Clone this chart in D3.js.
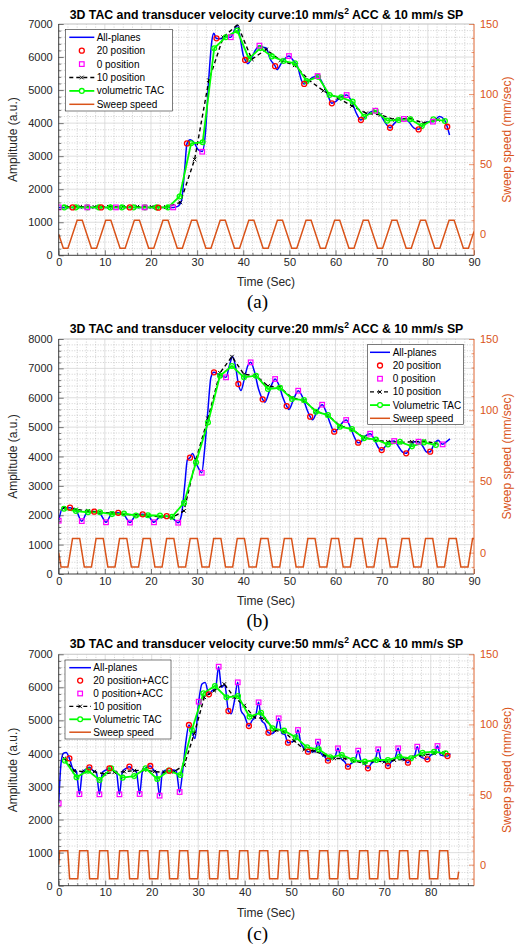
<!DOCTYPE html>
<html><head><meta charset="utf-8">
<script src="https://cdn.jsdelivr.net/npm/d3@7"></script>
<style>body{margin:0;background:#fff}svg{display:block}text{font-family:Arial,"Liberation Sans",Helvetica,sans-serif}</style>
</head><body><svg id="c" width="516" height="946"></svg>
<script>
// ---------------- DATA ----------------
const xTicksA = [0,10,20,30,40,50,60,70,80,90];
const xTicksC = [0,10,20,30,40,50,60,70,80];
const yTicksA = [0,1000,2000,3000,4000,5000,6000,7000];
const yTicksB = [0,1000,2000,3000,4000,5000,6000,7000,8000];
const y2Ticks = [0,50,100,150];

// Panel (a)
const blueA = [[0,1450],[3,1450],[6.2,1450],[9.2,1450],[12.4,1450],[15.4,1450],[18.6,1450],[21.6,1445],[24.8,1450],[25.8,1480],[26.6,1650],[27.3,2600],[27.8,3380],[28.5,3500],[29.3,3420],[30.2,3200],[31.1,3140],[31.8,3700],[32.5,5300],[33.2,6500],[33.6,6720],[34.2,6560],[35.0,6550],[36.0,6620],[37.3,6600],[38.2,6850],[38.7,6960],[39.3,6600],[40.0,6050],[40.4,5910],[41.0,5800],[41.8,5960],[42.6,6200],[43.5,6344],[44.3,6300],[45.0,6270],[45.8,5950],[46.9,5729],[47.3,5620],[48.2,5800],[49.0,5950],[49.9,6031],[50.8,5900],[51.8,5700],[52.6,5300],[53.2,5184],[54.0,5270],[55.0,5380],[56.1,5426],[57.2,5200],[58.3,4850],[59.2,4600],[60.0,4650],[61.0,4780],[62.4,4851],[63.5,4650],[64.5,4300],[65.5,4094],[66.5,4200],[67.5,4330],[68.6,4377],[69.5,4300],[70.6,4050],[71.8,3862],[72.8,4000],[73.8,4120],[74.8,4124],[75.8,4050],[77.0,3850],[78.0,3812],[79.0,3950],[80.0,4040],[81.1,4043],[82.5,4200],[83.5,4120],[84.2,3892],[84.7,3640]];
const redA = [[3.0,1450],[9.2,1450],[15.4,1450],[21.6,1440],[27.8,3385],[34.2,6565],[40.4,5910],[46.9,5725],[53.2,5185],[59.2,4600],[65.5,4095],[71.8,3860],[78.0,3810],[84.2,3890]];
const magA = [[0,1450],[6.2,1450],[12.4,1450],[18.6,1450],[24.8,1450],[31.1,3135],[37.3,6600],[43.5,6345],[49.9,6030],[56.1,5425],[62.4,4850],[68.6,4375],[74.8,4125],[81.1,4045]];
const blackA = [[1.55,1470],[4.65,1470],[7.75,1465],[10.85,1470],[13.95,1465],[17.05,1470],[20.15,1465],[23.25,1460],[26.35,1600],[29.45,2900],[32.55,5300],[35.65,6600],[38.75,6980],[41.85,5930],[44.95,6230],[48.05,5900],[51.15,5750],[54.25,5300],[57.35,4980],[60.45,4760],[63.55,4520],[66.65,4300],[69.75,4250],[72.85,4100],[75.95,4150],[79.05,4000],[82.15,4100]];
const greenA = [[1.2,1450],[3.7,1450],[6.2,1450],[8.7,1450],[11.2,1450],[13.7,1450],[16.2,1450],[18.7,1450],[21.2,1450],[23.7,1450],[26.2,1780],[28.7,3390],[31.2,3420],[33.7,6265],[36.2,6600],[38.7,6800],[41.2,5950],[43.7,6270],[46.2,6020],[48.7,5880],[51.2,5810],[53.7,5270],[56.2,5400],[58.7,4850],[61.2,4780],[63.7,4650],[66.2,4195],[68.7,4375],[71.2,4075],[73.7,4095],[76.2,4115],[78.7,3910],[81.2,4115],[83.7,4065]];
const sweepA = [[0,0],[1,-10],[2,-10],[4,10],[5.1,10],[7.1,-10],[8.2,-10],[10.2,10],[11.3,10],[13.3,-10],[14.4,-10],[16.4,10],[17.5,10],[19.5,-10],[20.6,-10],[22.6,10],[23.7,10],[25.7,-10],[26.8,-10],[28.8,10],[29.9,10],[31.9,-10],[33,-10],[35,10],[36.1,10],[38.1,-10],[39.2,-10],[41.2,10],[42.3,10],[44.3,-10],[45.4,-10],[47.4,10],[48.5,10],[50.5,-10],[51.6,-10],[53.6,10],[54.7,10],[56.7,-10],[57.8,-10],[59.8,10],[60.9,10],[62.9,-10],[64,-10],[66,10],[67.1,10],[69.1,-10],[70.2,-10],[72.2,10],[73.3,10],[75.3,-10],[76.4,-10],[78.4,10],[79.5,10],[81.5,-10],[82.6,-10],[84.6,10],[85.7,10],[87.7,-10],[88.8,-10],[90,2]];

// Panel (b)
const blueB = [[0,1815],[0.8,2230],[2.45,2258],[3.8,2150],[4.98,1800],[6.2,2100],[7.7,2122],[9.0,2050],[10.25,1760],[11.5,2050],[12.9,2083],[14.2,2000],[15.45,1750],[16.7,2000],[18.2,2030],[19.5,1960],[20.65,1760],[21.9,1950],[23.4,1970],[24.7,1900],[25.9,1746],[26.6,2000],[27.3,3000],[27.9,3900],[28.45,3959],[29.0,4100],[30.0,3700],[31.0,3448],[31.6,4200],[32.3,5500],[33.0,6700],[33.65,6865],[34.5,6800],[35.3,6750],[36.26,6695],[37.0,7100],[37.7,7400],[38.4,7000],[38.93,6468],[39.5,6250],[40.3,6700],[41.0,7100],[41.6,7205],[42.4,6900],[43.3,6300],[44.2,5945],[44.7,5850],[45.6,6200],[46.3,6500],[46.9,6638],[47.8,6400],[48.6,6000],[49.4,5718],[49.9,5600],[50.8,5900],[51.9,6240],[52.9,6000],[53.8,5600],[54.5,5355],[55.0,5250],[56.0,5550],[57.1,5764],[58.0,5500],[58.9,5100],[59.7,4844],[60.3,4900],[61.2,5100],[62.3,5242],[63.2,5000],[64.1,4650],[64.9,4470],[65.5,4500],[66.5,4700],[67.5,4776],[68.5,4550],[69.3,4300],[70.0,4220],[70.8,4350],[71.7,4500],[72.7,4527],[73.6,4350],[74.5,4150],[75.3,4107],[76.1,4300],[77.0,4500],[78.0,4504],[78.9,4350],[79.8,4150],[80.5,4164],[81.3,4400],[82.2,4550],[83.2,4413],[84.0,4500],[84.8,4600]];
const redB = [[2.45,2258],[7.7,2122],[12.9,2083],[18.2,2030],[23.4,1970],[28.45,3959],[33.65,6865],[38.93,6468],[44.2,5945],[49.4,5718],[54.5,5355],[59.7,4844],[64.9,4470],[70.0,4220],[75.3,4107],[80.5,4164]];
const magB = [[0,1815],[5.0,1800],[10.25,1760],[15.45,1750],[20.65,1760],[25.9,1746],[31.0,3448],[36.26,6695],[41.6,7205],[46.9,6638],[51.9,6240],[57.1,5764],[62.3,5242],[67.5,4776],[72.7,4527],[78.0,4504],[83.2,4413]];
const blackB = [[1.15,2250],[3.75,2200],[6.35,2150],[8.95,2100],[11.55,2070],[14.15,2030],[16.75,2000],[19.35,1980],[21.95,1950],[24.55,1920],[27.15,2150],[29.75,3900],[32.35,5300],[34.95,6850],[37.55,7400],[40.15,6800],[42.75,6750],[45.35,6400],[47.95,6350],[50.55,6000],[53.15,5900],[55.75,5550],[58.35,5400],[60.95,5050],[63.55,4920],[66.15,4650],[68.75,4560],[71.35,4500],[73.95,4480],[76.55,4500],[79.15,4520],[81.75,4450]];
const greenB = [[1.15,2220],[3.75,2145],[6.35,2100],[8.95,2100],[11.55,2040],[14.15,2060],[16.75,1990],[19.35,2000],[21.95,1990],[24.55,1950],[27.15,2420],[29.75,3800],[32.35,5160],[34.95,6750],[37.55,7080],[40.15,6695],[42.75,6750],[45.35,6300],[47.95,6340],[50.55,5960],[53.15,5920],[55.75,5525],[58.35,5410],[60.95,5015],[63.55,4935],[66.15,4620],[68.75,4580],[71.35,4410],[73.95,4500],[76.55,4345],[79.15,4480],[81.75,4390]];
const sweepB = [[0,0],[0.5,-10],[2.0,-10],[3.0,10],[4.55,10],[5.55,-10],[7.1,-10],[8.1,10],[9.65,10],[10.65,-10],[12.2,-10],[13.2,10],[14.75,10],[15.75,-10],[17.3,-10],[18.3,10],[19.85,10],[20.85,-10],[22.4,-10],[23.4,10],[24.95,10],[25.95,-10],[27.5,-10],[28.5,10],[30.05,10],[31.05,-10],[32.6,-10],[33.6,10],[35.15,10],[36.15,-10],[37.7,-10],[38.7,10],[40.25,10],[41.25,-10],[42.8,-10],[43.8,10],[45.35,10],[46.35,-10],[47.9,-10],[48.9,10],[50.45,10],[51.45,-10],[53.0,-10],[54.0,10],[55.55,10],[56.55,-10],[58.1,-10],[59.1,10],[60.65,10],[61.65,-10],[63.2,-10],[64.2,10],[65.75,10],[66.75,-10],[68.3,-10],[69.3,10],[70.85,10],[71.85,-10],[73.4,-10],[74.4,10],[75.95,10],[76.95,-10],[78.5,-10],[79.5,10],[81.05,10],[82.05,-10],[83.6,-10],[84.6,10],[86.15,10],[87.15,-10],[88.7,-10],[89.7,10],[90,10]];

// Panel (c)
const blueC = [[0,2492],[0.5,3700],[1.0,4000],[1.6,4030],[2.3,3853],[3.0,3550],[3.8,3450],[4.46,2770],[5.1,3450],[5.8,3520],[6.6,3580],[7.4,3480],[8.1,3430],[8.76,2764],[9.4,3430],[10.2,3500],[10.9,3550],[11.7,3480],[12.4,3440],[13.06,2764],[13.7,3450],[14.5,3550],[15.2,3600],[16.0,3500],[16.7,3450],[17.4,2774],[18.0,3450],[18.9,3580],[19.7,3621],[20.4,3500],[21.0,3430],[21.7,2724],[22.3,3430],[23.1,3500],[23.8,3480],[24.6,3500],[25.3,3460],[26.0,2834],[26.6,3400],[27.3,4300],[28.0,4861],[28.6,4700],[29.3,4450],[30.1,5567],[30.8,6100],[31.5,6150],[32.3,5789],[33.0,5900],[33.7,5950],[34.4,6626],[35.0,6000],[35.7,6080],[36.5,5285],[37.1,5200],[37.8,5600],[38.5,6152],[39.2,5300],[39.9,5150],[40.9,4831],[41.6,5000],[42.3,5100],[42.98,5547],[43.6,5000],[44.3,4900],[45.1,4629],[45.8,4600],[46.6,4700],[47.3,5063],[48.0,4600],[48.6,4580],[49.3,4327],[50.0,4350],[50.8,4400],[51.45,4710],[52.1,4300],[52.9,4150],[53.6,4054],[54.3,4050],[55.1,4050],[55.75,4357],[56.4,4000],[57.2,3900],[57.9,3782],[58.6,3850],[59.4,3900],[60.05,4155],[60.7,3850],[61.5,3750],[62.2,3600],[62.9,3700],[63.7,3780],[64.4,4085],[65.0,3780],[65.8,3680],[66.5,3550],[67.2,3700],[68.0,3780],[68.7,4125],[69.3,3800],[70.1,3750],[70.8,3621],[71.5,3750],[72.3,3850],[73.0,4155],[73.6,3850],[74.4,3800],[75.1,3722],[75.8,3850],[76.5,3920],[77.1,4206],[77.8,3900],[78.6,3850],[79.3,3822],[80.0,3950],[80.8,4000],[81.45,4226],[82.1,3950],[82.9,3930],[83.6,3923],[84.2,4000]];
const redC = [[2.3,3853],[6.6,3580],[10.9,3550],[15.2,3600],[19.7,3621],[23.8,3480],[28.0,4861],[32.3,5789],[36.5,5285],[40.9,4831],[45.1,4629],[49.3,4327],[53.6,4054],[57.9,3782],[62.2,3600],[66.5,3550],[70.8,3621],[75.1,3722],[79.3,3822],[83.6,3923]];
const magC = [[0,2492],[4.46,2770],[8.76,2764],[13.06,2764],[17.4,2774],[21.7,2724],[26.0,2834],[30.1,5567],[34.4,6626],[38.5,6152],[42.98,5547],[47.3,5063],[51.45,4710],[55.75,4357],[60.05,4155],[64.4,4085],[68.7,4125],[73.0,4155],[77.1,4206],[81.45,4226]];
const blackC = [[1.2,3850],[3.35,3470],[5.5,3450],[7.65,3450],[9.8,3380],[11.95,3430],[14.1,3450],[16.25,3480],[18.4,3500],[20.55,3450],[22.7,3430],[24.85,3450],[27.0,3650],[29.15,4600],[31.3,5700],[33.45,5900],[35.6,6100],[37.75,5700],[39.9,5450],[42.05,5100],[44.2,5050],[46.35,4700],[48.5,4650],[50.65,4380],[52.8,4120],[54.95,4080],[57.1,3950],[59.25,3850],[61.4,3850],[63.55,3780],[65.7,3700],[67.85,3780],[70.0,3750],[72.15,3800],[74.3,3820],[76.45,3900],[78.6,3950],[80.75,4000],[82.9,4020]];
const greenC = [[1.35,3782],[3.83,3278],[6.31,3480],[8.79,3197],[11.27,3550],[13.75,3268],[16.23,3318],[18.71,3550],[21.19,3227],[23.67,3480],[26.15,3348],[28.63,4710],[31.11,5819],[33.59,6041],[36.07,5698],[38.55,5738],[41.03,5113],[43.51,5234],[45.99,4760],[48.47,4690],[50.95,4488],[53.43,4185],[55.91,4125],[58.39,3883],[60.87,3954],[63.35,3802],[65.83,3752],[68.31,3802],[70.79,3802],[73.27,3903],[75.75,3853],[78.23,4024],[80.71,4054],[83.19,4004]];
const sweepC = [[0,0],[0.2,10],[1.95,10],[2.35,-10],[4.1,-10],[4.5,10],[6.25,10],[6.65,-10],[8.4,-10],[8.8,10],[10.55,10],[10.95,-10],[12.7,-10],[13.1,10],[14.85,10],[15.25,-10],[17.0,-10],[17.4,10],[19.15,10],[19.55,-10],[21.3,-10],[21.7,10],[23.45,10],[23.85,-10],[25.6,-10],[26.0,10],[27.75,10],[28.15,-10],[29.9,-10],[30.3,10],[32.05,10],[32.45,-10],[34.2,-10],[34.6,10],[36.35,10],[36.75,-10],[38.5,-10],[38.9,10],[40.65,10],[41.05,-10],[42.8,-10],[43.2,10],[44.95,10],[45.35,-10],[47.1,-10],[47.5,10],[49.25,10],[49.65,-10],[51.4,-10],[51.8,10],[53.55,10],[53.95,-10],[55.7,-10],[56.1,10],[57.85,10],[58.25,-10],[60.0,-10],[60.4,10],[62.15,10],[62.55,-10],[64.3,-10],[64.7,10],[66.45,10],[66.85,-10],[68.6,-10],[69.0,10],[70.75,10],[71.15,-10],[72.9,-10],[73.3,10],[75.05,10],[75.45,-10],[77.2,-10],[77.6,10],[79.35,10],[79.75,-10],[81.5,-10],[81.9,10],[83.65,10],[84.05,-10],[85.8,-10],[86.0,-5]];

const legendA = ["All-planes","20 position","0 position","10 position","volumetric TAC","Sweep speed"];
const legendB = ["All-planes","20 position","0 position","10 position","Volumetric TAC","Sweep speed"];
const legendC = ["All-planes","20 position+ACC","0 position+ACC","10 position","Volumetric TAC","Sweep speed"];

// ---------------- DRAW ----------------
const svg = d3.select('#c');
const ORANGE = '#D95319', AX = '#262626';

function panel(p){
  const x = d3.scaleLinear().domain([0,p.xMax]).range([58.7,474]);
  const y = d3.scaleLinear().domain([0,p.yMax]).range([p.bottom,p.top]);
  const y2 = d3.scaleLinear().domain([-15,150]).range([p.bottom,p.top]);
  const L=58.7,R=474;
  svg.append('clipPath').attr('id','clip'+p.id).append('rect')
     .attr('x',L).attr('y',p.top).attr('width',R-L).attr('height',p.bottom-p.top);
  const g = svg.append('g');
  const xm = d3.range(2,p.xMax,2).filter(v=>v%10!==0);
  const ym = d3.range(200,p.yMax,200).filter(v=>v%1000!==0);
  g.selectAll('.xm').data(xm).join('line').attr('x1',d=>x(d)).attr('x2',d=>x(d)).attr('y1',p.top).attr('y2',p.bottom)
   .attr('stroke','#b0b0b0').attr('stroke-width',0.6).attr('stroke-dasharray','1,1.6');
  g.selectAll('.ym').data(ym).join('line').attr('x1',L).attr('x2',R).attr('y1',d=>y(d)).attr('y2',d=>y(d))
   .attr('stroke','#b0b0b0').attr('stroke-width',0.6).attr('stroke-dasharray','1,1.6');
  const xg = d3.range(10,p.xMax,10);
  g.selectAll('.xg').data(xg).join('line').attr('x1',d=>x(d)).attr('x2',d=>x(d)).attr('y1',p.top).attr('y2',p.bottom)
   .attr('stroke','#d6d6d6').attr('stroke-width',0.8);
  g.selectAll('.yg').data(p.yTicks.slice(1)).join('line').attr('x1',L).attr('x2',R).attr('y1',d=>y(d)).attr('y2',d=>y(d))
   .attr('stroke','#d6d6d6').attr('stroke-width',0.8);

  const c = g.append('g').attr('clip-path','url(#clip'+p.id+')');
  c.append('path').datum(p.sweep).attr('fill','none').attr('stroke',ORANGE).attr('stroke-width',1.5)
   .attr('d',d3.line().x(d=>x(d[0])).y(d=>y2(d[1])));
  c.append('path').datum(p.blue).attr('fill','none').attr('stroke','#0000FF').attr('stroke-width',1.5)
   .attr('d',d3.line().curve(d3.curveMonotoneX).x(d=>x(d[0])).y(d=>y(d[1])));
  c.append('path').datum(p.black).attr('fill','none').attr('stroke','#000').attr('stroke-width',1.4)
   .attr('stroke-dasharray','4,3').attr('d',d3.line().x(d=>x(d[0])).y(d=>y(d[1])));
  c.selectAll('.bx').data(p.black).join('path').attr('d',d=>`M${x(d[0])-1.8},${y(d[1])-1.8}L${x(d[0])+1.8},${y(d[1])+1.8}M${x(d[0])-1.8},${y(d[1])+1.8}L${x(d[0])+1.8},${y(d[1])-1.8}`)
   .attr('stroke','#000').attr('stroke-width',1);
  c.append('path').datum(p.green).attr('fill','none').attr('stroke','#00FF00').attr('stroke-width',1.8)
   .attr('d',d3.line().x(d=>x(d[0])).y(d=>y(d[1])));
  c.selectAll('.gc').data(p.green).join('circle').attr('cx',d=>x(d[0])).attr('cy',d=>y(d[1])).attr('r',2.4)
   .attr('fill','none').attr('stroke','#00FF00').attr('stroke-width',1.3);
  c.selectAll('.rc').data(p.red).join('circle').attr('cx',d=>x(d[0])).attr('cy',d=>y(d[1])).attr('r',2.5)
   .attr('fill','none').attr('stroke','#FF0000').attr('stroke-width',1.3);
  c.selectAll('.ms').data(p.mag).join('rect').attr('x',d=>x(d[0])-2.3).attr('y',d=>y(d[1])-2.3).attr('width',4.6).attr('height',4.6)
   .attr('fill','none').attr('stroke','#FF00FF').attr('stroke-width',1.2);

  g.append('line').attr('x1',L).attr('x2',R).attr('y1',p.top).attr('y2',p.top).attr('stroke','#c8c8c8').attr('stroke-width',0.8);

  const fs = '11px';
  const ax = g.append('g').attr('transform',`translate(0,${p.bottom})`)
     .call(d3.axisBottom(x).tickValues(p.xTicks).tickSize(-5).tickSizeOuter(0).tickPadding(3).tickFormat(d3.format('d')));
  ax.append('g').call(d3.axisBottom(x).tickValues(xm).tickSize(-2.5).tickFormat(''));
  const ay = g.append('g').attr('transform',`translate(${L},0)`)
     .call(d3.axisLeft(y).tickValues(p.yTicks).tickSize(-5).tickSizeOuter(0).tickPadding(6).tickFormat(d3.format('d')));
  ay.append('g').call(d3.axisLeft(y).tickValues(ym).tickSize(-2.5).tickFormat(''));
  const ar = g.append('g').attr('transform',`translate(${R},0)`)
     .call(d3.axisRight(y2).tickValues(y2Ticks).tickSize(-5).tickSizeOuter(0).tickPadding(6));
  ar.append('g').call(d3.axisRight(y2).tickValues(d3.range(-10,151,10).filter(v=>v%50!==0)).tickSize(-2.5).tickFormat(''));
  [ax,ay].forEach(a=>{
     a.selectAll('line').attr('stroke',AX).attr('stroke-width',0.6);
     a.selectAll('text').attr('fill',AX).style('font-size',fs).style('font-family','Arial,"Liberation Sans",sans-serif');});
  ax.selectAll('path.domain').remove();
  ay.selectAll('path.domain').remove();
  ar.selectAll('path.domain').remove();
  ar.selectAll('line').attr('stroke',ORANGE).attr('stroke-width',0.6);
  ar.selectAll('text').attr('fill',ORANGE).style('font-size',fs).style('font-family','Arial,"Liberation Sans",sans-serif');
  g.append('line').attr('x1',L).attr('x2',R).attr('y1',p.bottom).attr('y2',p.bottom).attr('stroke',AX).attr('stroke-width',0.9);
  g.append('line').attr('x1',L).attr('x2',L).attr('y1',p.top).attr('y2',p.bottom).attr('stroke',AX).attr('stroke-width',0.9);
  g.append('line').attr('x1',R).attr('x2',R).attr('y1',p.top).attr('y2',p.bottom).attr('stroke',ORANGE).attr('stroke-width',0.9);

  const mid = (p.top+p.bottom)/2;
  g.append('text').attr('x',266).attr('y',p.bottom+31).attr('text-anchor','middle').attr('fill',AX).style('font-size','12px').text('Time (Sec)');
  g.append('text').attr('transform',`translate(17,${mid}) rotate(-90)`).attr('text-anchor','middle').attr('fill',AX).style('font-size','12px').text('Amplitude (a.u.)');
  g.append('text').attr('transform',`translate(510.5,${mid}) rotate(-90)`).attr('text-anchor','middle').attr('fill',ORANGE).style('font-size','12px').text('Sweep speed (mm/sec)');
  const t = g.append('text').attr('x',266.5).attr('y',p.titleY).attr('text-anchor','middle').attr('fill','#000')
     .style('font-size','12.3px').style('font-weight','bold');
  t.append('tspan').text(p.title[0]);
  t.append('tspan').attr('dy',-5).style('font-size','8.5px').text(p.title[1]);
  t.append('tspan').attr('dy',5).text(p.title[2]);
  g.append('text').attr('x',257.5).attr('y',p.capY).attr('text-anchor','middle').attr('fill','#000')
   .style('font-family','"Liberation Serif","Times New Roman",serif').style('font-size','19px').text(p.caption);

  const lg = p.leg;
  g.append('rect').attr('x',lg.x0).attr('y',lg.y0).attr('width',lg.x1-lg.x0).attr('height',lg.y1-lg.y0)
   .attr('fill','#fff').attr('stroke',AX).attr('stroke-width',0.6);
  p.labels.forEach((lab,i)=>{
    const yy = lg.ey + i*lg.dy, xa = lg.sx0, xb = lg.sx1, xc=(xa+xb)/2;
    if(i===0) g.append('line').attr('x1',xa).attr('x2',xb).attr('y1',yy).attr('y2',yy).attr('stroke','#0000FF').attr('stroke-width',1.5);
    if(i===1) g.append('circle').attr('cx',xc).attr('cy',yy).attr('r',2.5).attr('fill','none').attr('stroke','#FF0000').attr('stroke-width',1.3);
    if(i===2) g.append('rect').attr('x',xc-2.3).attr('y',yy-2.3).attr('width',4.6).attr('height',4.6).attr('fill','none').attr('stroke','#FF00FF').attr('stroke-width',1.2);
    if(i===3){ g.append('line').attr('x1',xa).attr('x2',xb).attr('y1',yy).attr('y2',yy).attr('stroke','#000').attr('stroke-width',1.4).attr('stroke-dasharray','4,3');
      g.append('path').attr('d',`M${xc-1.8},${yy-1.8}L${xc+1.8},${yy+1.8}M${xc-1.8},${yy+1.8}L${xc+1.8},${yy-1.8}`).attr('stroke','#000').attr('stroke-width',1);}
    if(i===4){ g.append('line').attr('x1',xa).attr('x2',xb).attr('y1',yy).attr('y2',yy).attr('stroke','#00FF00').attr('stroke-width',1.8);
      g.append('circle').attr('cx',xc).attr('cy',yy).attr('r',2.4).attr('fill','#fff').attr('stroke','#00FF00').attr('stroke-width',1.3);}
    if(i===5) g.append('line').attr('x1',xa).attr('x2',xb).attr('y1',yy).attr('y2',yy).attr('stroke',ORANGE).attr('stroke-width',1.5);
    g.append('text').attr('x',lg.tx).attr('y',yy).attr('dy','0.35em').attr('fill','#000').style('font-size','10px').text(lab);
  });
}

panel({id:'a',xMax:90,yMax:7000,top:24,bottom:255.3,xTicks:xTicksA,yTicks:yTicksA,
  blue:blueA,red:redA,mag:magA,black:blackA,green:greenA,sweep:sweepA,
  title:['3D TAC and transducer velocity curve:10 mm/s','2',' ACC & 10 mm/s SP'],titleY:19,caption:'(a)',capY:307.5,
  labels:legendA,leg:{x0:65.3,x1:172.3,y0:29.3,y1:111,ey:37.3,dy:13.4,sx0:69.3,sx1:94.3,tx:96.7}});
panel({id:'b',xMax:90,yMax:8000,top:339,bottom:574,xTicks:xTicksA,yTicks:yTicksB,
  blue:blueB,red:redB,mag:magB,black:blackB,green:greenB,sweep:sweepB,
  title:['3D TAC and transducer velocity curve:20 mm/s','2',' ACC & 10 mm/s SP'],titleY:333,caption:'(b)',capY:627,
  labels:legendB,leg:{x0:367.7,x1:463.3,y0:344.3,y1:424.3,ey:352.3,dy:13.2,sx0:370,sx1:390,tx:392.7}});
panel({id:'c',xMax:89.3,yMax:7000,top:654.3,bottom:885.7,xTicks:xTicksC,yTicks:yTicksA,
  blue:blueC,red:redC,mag:magC,black:blackC,green:greenC,sweep:sweepC,
  title:['3D TAC and transducer velocity curve:50 mm/s','2',' ACC & 10 mm/s SP'],titleY:647.5,caption:'(c)',capY:940,
  labels:legendC,leg:{x0:65,x1:171,y0:660,y1:739,ey:667.7,dy:12.9,sx0:69.3,sx1:91,tx:93.3}});
</script></body></html>
